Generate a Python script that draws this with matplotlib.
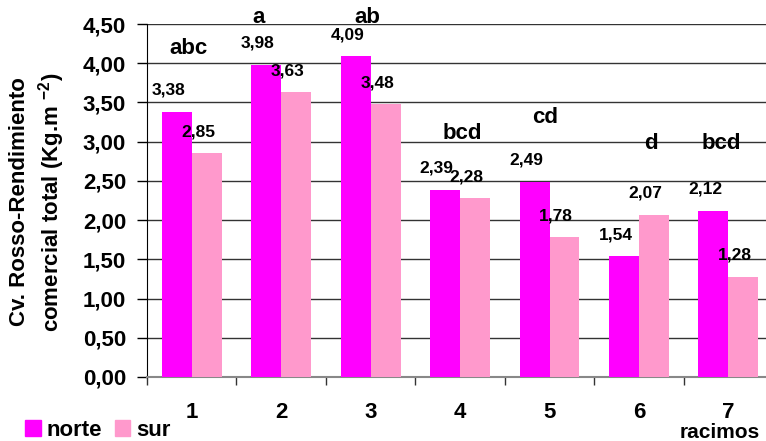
import numpy as np
import matplotlib
matplotlib.use("Agg")
import matplotlib.pyplot as plt
from matplotlib.ticker import FixedLocator, FuncFormatter
from matplotlib.patches import Patch

plt.rcParams['font.family'] = ['Liberation Sans', 'DejaVu Sans']
plt.rcParams['mathtext.fontset'] = 'custom'
plt.rcParams['mathtext.rm'] = 'Liberation Sans:bold'
plt.rcParams['mathtext.default'] = 'rm'

racimos = ['1', '2', '3', '4', '5', '6', '7']
norte = [3.38, 3.98, 4.09, 2.39, 2.49, 1.54, 2.12]
sur = [2.85, 3.63, 3.48, 2.28, 1.78, 2.07, 1.28]
letras = ['abc', 'a', 'ab', 'bcd', 'cd', 'd', 'bcd']

# where the significance letters sit (x in category units, y in data units)
letras_x = [-0.04, 0.75, 1.96, 3.02, 3.95, 5.13, 5.92]
letras_y = [4.19, 4.58, 4.58, 3.11, 3.31, 2.98, 2.98]

c_norte = '#FF00FF'
c_sur = '#FF99CC'

fig = plt.figure(figsize=(7.66, 4.41), dpi=100)
ax = fig.add_axes([147 / 766, 64 / 441, 619 / 766, 353 / 441])

x = np.arange(len(racimos))
w = 0.335
b1 = ax.bar(x - w / 2, norte, w, color=c_norte, zorder=3)
b2 = ax.bar(x + w / 2, sur, w, color=c_sur, zorder=3)

num_font = dict(family=['Liberation Sans Narrow', 'Liberation Sans'],
                fontsize=12.5, fontweight='bold')
for bars, vals in ((b1, norte), (b2, sur)):
    for r, v in zip(bars, vals):
        ax.annotate(f'{v:.2f}'.replace('.', ','),
                    (r.get_x() + r.get_width() / 2, v),
                    xytext=(-6, 10), textcoords='offset points',
                    ha='center', va='bottom', zorder=5, **num_font)

for lx, ly, t in zip(letras_x, letras_y, letras):
    ax.text(lx, ly, t, ha='center', va='center', fontsize=16,
            fontweight='bold', clip_on=False, zorder=6)

ax.set_xlim(-0.5, 6.42)
ax.set_ylim(0, 4.5)
ax.set_yticks(np.arange(0, 4.51, 0.5))
ax.yaxis.set_major_formatter(FuncFormatter(lambda v, p: f'{v:.2f}'.replace('.', ',')))
ax.grid(axis='y', color='#333333', linewidth=1, zorder=0)

ax.set_xticks(x)
ax.set_xticklabels(racimos)
ax.xaxis.set_minor_locator(FixedLocator(np.arange(-0.5, 7, 1)))
ax.tick_params(axis='x', which='major', length=0, pad=18, labelsize=16)
ax.tick_params(axis='x', which='minor', length=6, width=1, color='#333333')
ax.tick_params(axis='y', length=7, width=1, pad=8, labelsize=16)
for lab in ax.get_xticklabels() + ax.get_yticklabels():
    lab.set_fontweight('bold')

for s in ('top', 'right'):
    ax.spines[s].set_visible(False)
ax.spines['left'].set_color('black')
ax.spines['bottom'].set_color('#888888')
ax.spines['bottom'].set_linewidth(1.5)

fig.text(38 / 766, 1 - 202 / 441,
         'Cv. Rosso-Rendimiento\ncomercial total (Kg.m $^{-2}$)',
         rotation=90, ha='center', va='center', fontsize=16,
         fontweight='bold', linespacing=1.25)

fig.text(1 - 6 / 766, 1 - 432 / 441, 'racimos', ha='right', va='center',
         fontsize=15, fontweight='bold')

handles = [Patch(color=c_norte, label='norte'), Patch(color=c_sur, label='sur')]
fig.legend(handles=handles, loc='center left', bbox_to_anchor=(25 / 766, 1 - 430 / 441),
           ncol=2, frameon=False, prop=dict(size=16, weight='bold'),
           handlelength=0.7, handleheight=0.7, handletextpad=0.25,
           columnspacing=0.6, borderpad=0, borderaxespad=0)

fig.savefig('out.png', dpi=100)
